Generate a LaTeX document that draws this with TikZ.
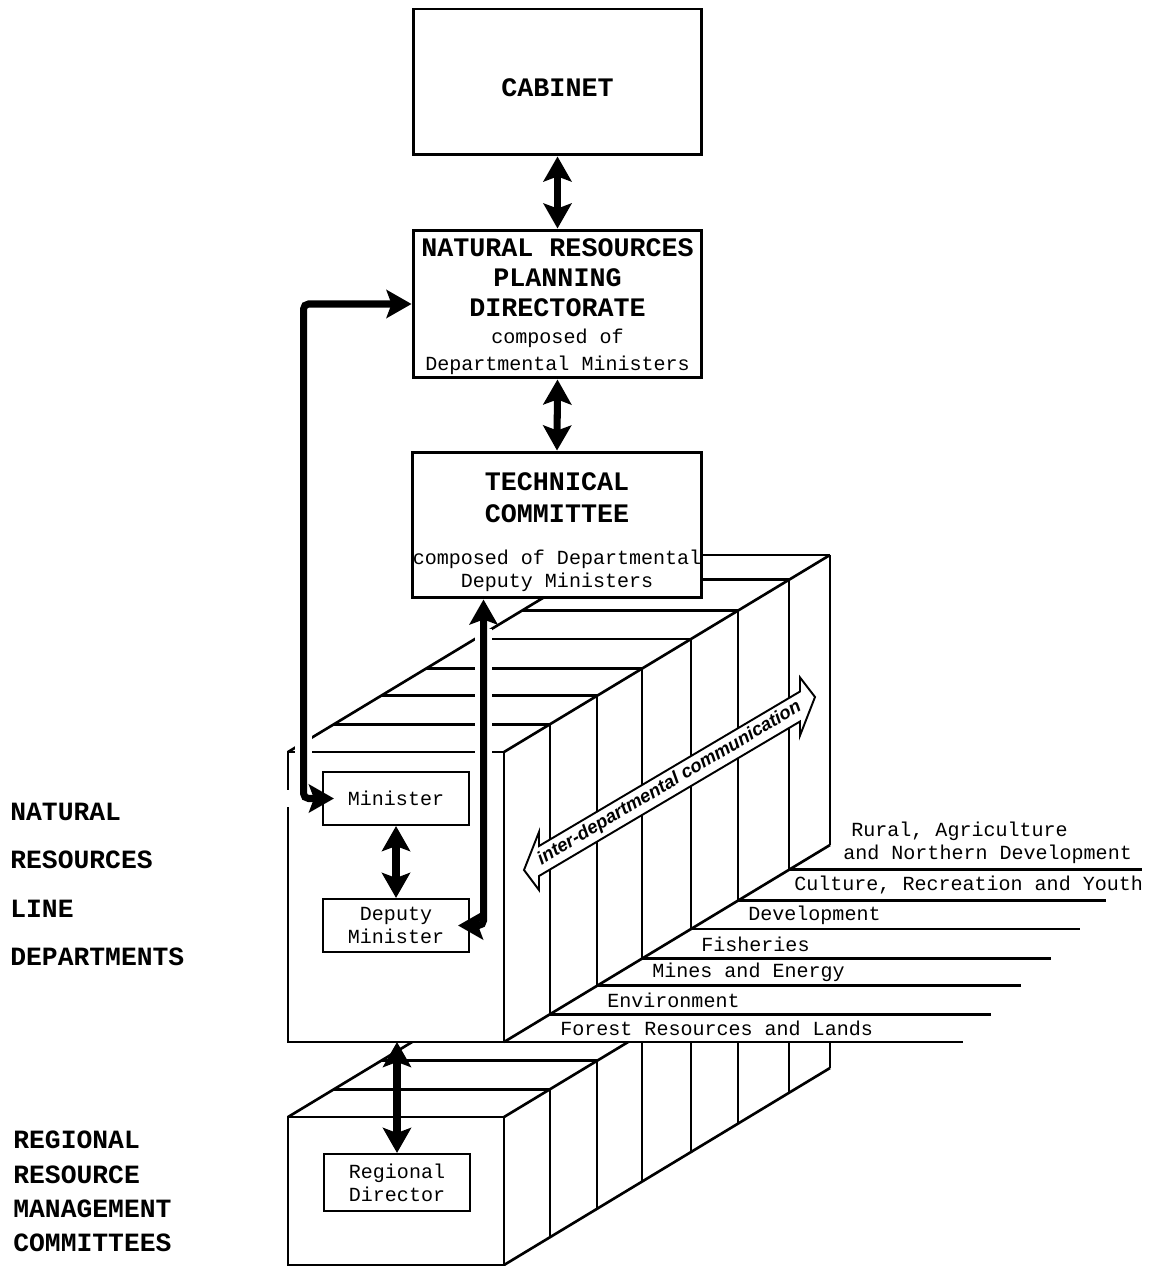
\documentclass[tikz,border=0pt]{standalone}
\usepackage{fontspec}
\usetikzlibrary{arrows.meta}
\newfontfamily\typefont{Liberation Mono}
\newfontfamily\commfont{Liberation Sans}
\newcommand{\bigtype}{\typefont\bfseries\fontsize{15.2}{17}\selectfont}
\newcommand{\smalltype}{\typefont\mdseries\fontsize{11.4}{13}\selectfont}
\tikzset{
  bigbox/.style={draw, line width=1.7pt, fill=white, minimum width=5.78cm, align=center, inner sep=0pt, font=\bigtype},
  smallbox/.style={draw, line width=1.2pt, fill=white, minimum width=2.92cm, minimum height=1.06cm, align=center, font=\smalltype, inner sep=0pt},
  link/.style={line width=4pt, >={Stealth[length=0.5cm,width=0.56cm,inset=0.1cm]}, <->},
  halo/.style={draw=white, line width=0.34cm},
  block/.style={line width=1.5pt},
  deptlabel/.style={anchor=west, font=\smalltype, inner sep=0pt},
  sidelabel/.style={anchor=west, align=left, inner sep=0pt}
}
\begin{document}
\begin{tikzpicture}[x=0.02cm, y=0.02cm]
\useasboundingbox (0,0) rectangle (1151,-1266);
% lower block: regional committees, only the part below the upper block shows
\begin{scope}
\clip (0,-1042) rectangle (1151,-1266);
\draw [block] (288,-1117) rectangle (504,-1265);
\draw [block] (288,-1117) -- (614,-920);
\draw [block] (334,-1089.2) -- (550,-1089.2);
\draw [block] (381,-1060.8) -- (597,-1060.8);
\draw [block] (504,-1117) -- (830,-920);
\draw [block] (504,-1265) -- (830,-1068);
\draw [block] (550,-1089.2) -- (550,-1237.2);
\draw [block] (597,-1060.8) -- (597,-1208.8);
\draw [block] (642,-1033.6) -- (642,-1181.6);
\draw [block] (691,-1004) -- (691,-1152);
\draw [block] (738,-975.6) -- (738,-1123.6);
\draw [block] (789,-944.8) -- (789,-1092.8);
\draw [block] (830,-920) -- (830,-1068);
\end{scope}
% upper block: line departments
\draw [block] (288,-752) rectangle (504,-1042);
\coordinate (fbl) at (288,-1042);
\draw [block] (288,-752) -- (614,-555);
\draw [block] (334,-724.2) -- (550,-724.2);
\draw [block] (381,-695.8) -- (597,-695.8);
\draw [block] (426,-668.6) -- (642,-668.6);
\draw [block] (475,-639) -- (691,-639);
\draw [block] (522,-610.6) -- (738,-610.6);
\draw [block] (573,-579.8) -- (789,-579.8);
\draw [block] (614,-555) -- (830,-555);
\draw [block] (504,-752) -- (830,-555);
\draw [block] (504,-1042) -- (830,-845);
\draw [block] (550,-724.2) -- (550,-1014.2);
\draw [block] (597,-695.8) -- (597,-985.8);
\draw [block] (642,-668.6) -- (642,-958.6);
\draw [block] (691,-639) -- (691,-929);
\draw [block] (738,-610.6) -- (738,-900.6);
\draw [block] (789,-579.8) -- (789,-869.8);
\draw [block] (830,-555) -- (830,-845);
% shelves under the department names
\draw [block] (504,-1042) -- (963,-1042);
\draw [block] (550,-1014.2) -- (991,-1014.2);
\draw [block] (597,-985.8) -- (1021,-985.8);
\draw [block] (642,-958.6) -- (1051,-958.6);
\draw [block] (691,-929) -- (1080,-929);
\draw [block] (738,-900.6) -- (1106,-900.6);
\draw [block] (789,-869.8) -- (1142,-869.8);
% open double arrow on the side face
\draw [line width=1.1pt, fill=white] (524,-870) -- (539,-832) -- (539,-846) -- (800,-691.5) -- (800,-677.5) -- (815,-697) -- (800,-735.5) -- (800,-721.5) -- (539,-876) -- (539,-890) -- cycle;
\node [font=\commfont\bfseries\itshape\fontsize{10.5}{12}\selectfont, rotate=30.7, inner sep=0pt] (comm) at (669.5,-783.5) {inter-departmental communication};
% boxes
\node [bigbox, minimum height=2.92cm, text height=0.59cm] (cab) at (557.5,-82) {CABINET};
\node [bigbox, minimum height=2.96cm] (nrpd) at (557.5,-304) {\rule{0pt}{0.47cm}NATURAL RESOURCES\\PLANNING\\DIRECTORATE\\[-1.6pt]\smalltype composed of\\[-1.6pt]\smalltype Departmental Ministers};
\node [bigbox, minimum height=2.92cm] (tc) at (557,-525) {\rule{0pt}{0.63cm}TECHNICAL\\[1.2pt]COMMITTEE\\[6.9pt]\smalltype composed of Departmental\\[-4pt]\smalltype Deputy Ministers};
\node [smallbox] (min) at (396,-798.5) {Minister};
\node [smallbox] (dep) at (396,-925.5) {Deputy\\Minister};
\node [smallbox, minimum height=1.14cm] (reg) at (397,-1182.5) {Regional\\Director};
% connectors
\draw [link] (cab.south) -- (nrpd.north);
\draw [link] (nrpd.south) -- (tc.north);
\draw [halo, shorten <=0.7cm, shorten >=0.7cm] (nrpd.west) -- ++(-108,0) |- (min.west);
\draw [link, rounded corners=0.1cm, shorten >=-0.24cm] (nrpd.west) -- ++(-108,0) |- (min.west);
\draw [halo, shorten <=0.6cm, shorten >=0.6cm] ([xshift=1.45cm]tc.south west) |- (dep.east);
\draw [link, rounded corners=0.1cm, shorten >=-0.24cm] ([xshift=1.45cm]tc.south west) |- (dep.east);
\draw [link] (min.south) -- (dep.north);
\draw [link] (reg.north |- fbl) -- (reg.north);
% department names
\node [deptlabel] (forest) at (560,-1028) {Forest Resources and Lands};
\node [deptlabel] (env) at (607,-1000) {Environment};
\node [deptlabel] (mines) at (652,-972) {Mines and Energy};
\node [deptlabel] (fish) at (701,-944) {Fisheries};
\node [deptlabel] (devel) at (748,-915) {Development};
\node [deptlabel] (culture) at (794,-885) {Culture, Recreation and Youth};
\node [deptlabel, align=left] (rural) at (843,-843) {\hspace*{0.16cm}Rural, Agriculture\\and Northern Development};
% side titles
\node [sidelabel, font=\typefont\bfseries\fontsize{15}{27.5}\selectfont] (linedept) at (10,-884.5) {NATURAL\\RESOURCES\\LINE\\DEPARTMENTS};
\node [sidelabel, font=\typefont\bfseries\fontsize{15}{19.5}\selectfont] (regcomm) at (13,-1191.5) {REGIONAL\\RESOURCE\\MANAGEMENT\\COMMITTEES};
\end{tikzpicture}
\end{document}
